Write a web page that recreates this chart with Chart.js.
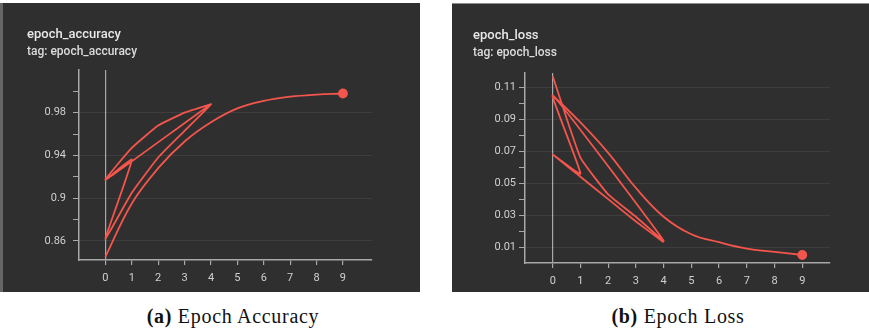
<!DOCTYPE html>
<html>
<head>
<meta charset="utf-8">
<script src="https://cdn.jsdelivr.net/npm/chart.js@4.4.1/dist/chart.umd.min.js"></script>
<style>
  html, body { margin: 0; padding: 0; background: #fff; }
  body { width: 869px; height: 335px; position: relative; overflow: hidden; }
  .panel { position: absolute; top: 3px; width: 417px; height: 289px; background: #2f2f2f; box-sizing: border-box; }
  #panel-acc  { left: 3px; box-shadow: -3px 0 0 #666; }
  #panel-loss { left: 452px; border-top: 1px solid #8c8c8c; }
  .caption {
    position: absolute; top: 305px; transform: translateX(-50%);
    font-family: "Liberation Serif", "DejaVu Serif", serif; font-size: 20px;
    letter-spacing: 0.7px; color: #111; white-space: nowrap;
  }
</style>
</head>
<body>

<div class="panel" id="panel-acc"><canvas id="acc-chart"></canvas></div>
<div class="panel" id="panel-loss"><canvas id="loss-chart"></canvas></div>

<div class="caption" style="left:233px"><b>(a)</b> Epoch Accuracy</div>
<div class="caption" style="left:678px"><b>(b)</b> Epoch Loss</div>

<script>
/* ── Epoch accuracy / loss (TensorBoard screenshot) ─────────────────────────── */

// ── Data ──────────────────────────────────────────────────────────────────────
const epochTicks = [0, 1, 2, 3, 4, 5, 6, 7, 8, 9];

// short runs logged into the same tag, so the line jumps back to step 0
const accRunSteps  = [0, 1, 0, 1, 2, 3, 4, 0, 1, 2, 3, 4];
const accRunValues = [0.917, 0.936, 0.862, 0.905, 0.938, 0.963, 0.988, 0.917, 0.947, 0.968, 0.980, 0.988];
const accLongSteps  = [0, 1, 2, 3, 4, 5, 6, 7, 8, 9];
const accLongValues = [0.845, 0.895, 0.928, 0.953, 0.971, 0.984, 0.991, 0.995, 0.997, 0.998];
const accTicks      = [0.86, 0.88, 0.90, 0.92, 0.94, 0.96, 0.98, 1.00];
const accTickLabels = ['0.86', '', '0.9', '', '0.94', '', '0.98', ''];

const lossRunSteps  = [0, 1, 2, 3, 4, 0, 1, 0, 1, 2, 3, 4];
const lossRunValues = [0.117, 0.066, 0.043, 0.029, 0.014, 0.105, 0.056, 0.068, 0.054, 0.040, 0.026, 0.013];
const lossLongSteps  = [0, 1, 2, 3, 4, 5, 6, 7, 8, 9];
const lossLongValues = [0.105, 0.088, 0.069, 0.047, 0.029, 0.018, 0.013, 0.009, 0.007, 0.005];
const lossTicks      = [0.01, 0.02, 0.03, 0.04, 0.05, 0.06, 0.07, 0.08, 0.09, 0.10, 0.11];
const lossTickLabels = ['0.01', '', '0.03', '', '0.05', '', '0.07', '', '0.09', '', '0.11'];

// ── Style ─────────────────────────────────────────────────────────────────────
const RED   = '#f4554c';
const AXIS  = '#a8a8a8';
const LABEL = '#d0d0d0';
const FONT  = 'Roboto, "Liberation Sans", sans-serif';

const pts = (xs, ys) => xs.map((x, i) => ({ x, y: ys[i] }));

function makeChart(id, cfg) {
  const canvas = document.getElementById(id);
  canvas.width = 417; canvas.height = 289;
  canvas.style.width = '417px'; canvas.style.height = '289px';

  return new Chart(canvas, {
    type: 'scatter',
    data: {
      datasets: [
        {
          data: pts(cfg.runSteps, cfg.runValues),
          showLine: true, borderColor: RED, borderWidth: 1.8,
          pointRadius: 0, tension: 0.12,
        },
        {
          data: pts(cfg.longSteps, cfg.longValues),
          showLine: true, borderColor: RED, borderWidth: 1.8, tension: 0.4,
          backgroundColor: RED,
          pointRadius: ctx => ctx.dataIndex === cfg.longSteps.length - 1 ? 4 : 0,
        },
      ],
    },
    options: {
      responsive: false, animation: false,
      layout: { padding: { left: cfg.padLeft, right: cfg.padRight, top: 0, bottom: 0 } },
      plugins: {
        legend : { display: false },
        tooltip: { enabled: false },
        title: {
          display: true, text: cfg.title, align: 'start', color: '#e8e8e8',
          font: { family: FONT, size: 13, weight: '500' },
          padding: { top: 24, bottom: 2 },
        },
        subtitle: {
          display: true, text: 'tag: ' + cfg.title, align: 'start', color: '#dcdcdc',
          font: { family: FONT, size: 12, weight: '500' },
          padding: { top: 0, bottom: cfg.subBottom },
        },
      },
      scales: {
        x: {
          type: 'linear', min: -1, max: cfg.xMax,
          afterBuildTicks: s => { s.ticks = epochTicks.map(v => ({ value: v })); },
          afterFit: s => { s.height = cfg.xHeight; },
          ticks: { color: LABEL, font: { family: FONT, size: 11 }, padding: 7 },
          grid: {
            color: ctx => ctx.tick && ctx.tick.value === 0 ? AXIS : 'transparent',
            tickColor: AXIS, tickLength: 5, lineWidth: 1.2,
          },
          border: { color: AXIS, width: 1.5 },
        },
        y: {
          min: cfg.yMin, max: cfg.yMax,
          afterBuildTicks: s => { s.ticks = cfg.yTicks.map(v => ({ value: v })); },
          afterFit: s => { s.width = cfg.yWidth; },
          ticks: {
            color: LABEL, font: { family: FONT, size: 11 }, padding: cfg.yPad,
            callback: (v, i) => cfg.yLabels[i],
          },
          grid: {
            color: ctx => ctx.index % 2 === 0 ? 'rgba(255,255,255,0.07)' : 'transparent',
            tickColor: AXIS, tickLength: 6,
          },
          border: { color: AXIS, width: 1.5 },
        },
      },
    },
  });
}

// ── Build ─────────────────────────────────────────────────────────────────────
makeChart('acc-chart', {
  title: 'epoch_accuracy',
  runSteps: accRunSteps, runValues: accRunValues,
  longSteps: accLongSteps, longValues: accLongValues,
  yTicks: accTicks, yLabels: accTickLabels,
  yMin: 0.842, yMax: 1.02, xMax: 10.1,
  padLeft: 24, padRight: 48,
  yWidth: 52, yPad: 7, xHeight: 32, subBottom: 11,
});

makeChart('loss-chart', {
  title: 'epoch_loss',
  runSteps: lossRunSteps, runValues: lossRunValues,
  longSteps: lossLongSteps, longValues: lossLongValues,
  yTicks: lossTicks, yLabels: lossTickLabels,
  yMin: 0, yMax: 0.119, xMax: 10,
  padLeft: 21, padRight: 39,
  yWidth: 52, yPad: 3, xHeight: 30, subBottom: 13,
});
</script>
</body>
</html>
